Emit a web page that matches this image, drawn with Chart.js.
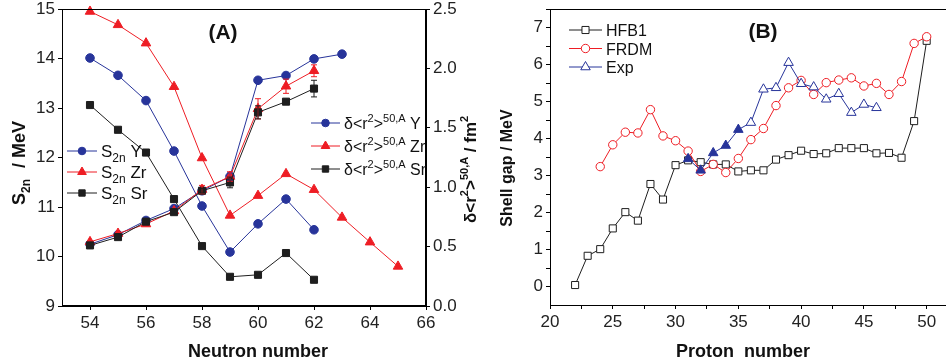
<!DOCTYPE html>
<html>
<head>
<meta charset="utf-8">
<script src="https://cdn.jsdelivr.net/npm/chart.js@4.4.1/dist/chart.umd.min.js"></script>
<style>
  body { margin: 0; background: #fff; overflow: hidden; }
  canvas { position: absolute; top: 0; }
  #chartA { left: 0; }
  #chartB { left: 500px; }
</style>
</head>
<body>
<canvas id="chartA" width="500" height="362"></canvas>
<canvas id="chartB" width="446" height="362"></canvas>
<script>
// Painel A: S2n (eixo esquerdo) e raio delta<r2> (eixo direito)
const nY = [54, 55, 56, 57, 58, 59, 60, 61, 62];
const s2nY = [14.01, 13.66, 13.15, 12.13, 11.02, 10.09, 10.66, 11.16, 10.54];
const nZr = [54, 55, 56, 57, 58, 59, 60, 61, 62, 63, 64, 65];
const s2nZr = [14.95, 14.68, 14.31, 13.43, 11.99, 10.83, 11.23, 11.67, 11.35, 10.79, 10.29, 9.80];
const nSr = [54, 55, 56, 57, 58, 59, 60, 61, 62];
const s2nSr = [13.06, 12.56, 12.10, 11.16, 10.21, 9.59, 9.63, 10.07, 9.53];

const rnY = [54, 55, 56, 57, 58, 59, 60, 61, 62, 63];
const radY = [0.52, 0.60, 0.72, 0.82, 0.97, 1.09, 1.90, 1.94, 2.08, 2.12];
const errY = [0, 0, 0, 0, 0, 0.03, 0, 0, 0, 0];
const rnZr = [54, 55, 56, 57, 58, 59, 60, 61, 62];
const radZr = [0.54, 0.61, 0.69, 0.80, 0.98, 1.09, 1.66, 1.85, 1.98];
const errZr = [0, 0, 0, 0, 0.035, 0.04, 0.085, 0.06, 0.05];
const rnSr = [54, 55, 56, 57, 58, 59, 60, 61, 62];
const radSr = [0.51, 0.58, 0.71, 0.79, 0.97, 1.04, 1.63, 1.72, 1.83];
const errSr = [0, 0, 0, 0, 0.02, 0.045, 0.055, 0, 0.07];

const ticksNeutron = [54, 56, 58, 60, 62, 64, 66];
const ticksS2n = [9, 10, 11, 12, 13, 14, 15];
const ticksRad = [0, 0.5, 1, 1.5, 2, 2.5];

// Painel B: gap de camada
const zHfb = [22, 23, 24, 25, 26, 27, 28, 29, 30, 31, 32, 33, 34, 35, 36, 37, 38, 39, 40, 41, 42, 43, 44, 45, 46, 47, 48, 49, 50];
const gapHfb = [0.04, 0.83, 1.01, 1.57, 2.01, 1.78, 2.77, 2.35, 3.28, 3.41, 3.36, 3.30, 3.30, 3.11, 3.14, 3.14, 3.43, 3.55, 3.67, 3.58, 3.60, 3.74, 3.74, 3.74, 3.60, 3.61, 3.48, 4.47, 6.64];
const zFrdm = [24, 25, 26, 27, 28, 29, 30, 31, 32, 33, 34, 35, 36, 37, 38, 39, 40, 41, 42, 43, 44, 45, 46, 47, 48, 49, 50];
const gapFrdm = [3.24, 3.83, 4.17, 4.15, 4.78, 4.07, 3.94, 3.66, 3.11, 3.30, 3.08, 3.46, 3.97, 4.27, 4.89, 5.37, 5.57, 5.19, 5.51, 5.58, 5.64, 5.42, 5.49, 5.19, 5.54, 6.57, 6.75];
const zExp = [31, 32, 33, 34, 35, 36, 37, 38, 39, 40, 41, 42, 43, 44, 45, 46];
const gapExp = [3.45, 3.14, 3.61, 3.81, 4.24, 4.43, 5.33, 5.37, 6.05, 5.48, 5.39, 5.06, 5.21, 4.70, 4.92, 4.83];
const expFilledUpTo = 35; // triangulos cheios ate Z=35

const ticksProton = [20, 25, 30, 35, 40, 45, 50];
const ticksGap = [0, 1, 2, 3, 4, 5, 6, 7];

const AZUL = '#27349a';
const VERMELHO = '#ee1d24';
const PRETO = '#1e1e1e';
const FONTE = "'Liberation Sans', Arial, sans-serif";

// desenha marcador simples
function marcador(ctx, estilo, x, y, r, cor, fundo) {
  ctx.save();
  ctx.beginPath();
  if (estilo === 'circle') {
    ctx.arc(x, y, r, 0, Math.PI * 2);
  } else if (estilo === 'triangle') {
    ctx.moveTo(x, y - r);
    ctx.lineTo(x + 0.866 * r, y + r / 2);
    ctx.lineTo(x - 0.866 * r, y + r / 2);
    ctx.closePath();
  } else {
    const s = r * Math.SQRT1_2;
    ctx.rect(x - s, y - s, 2 * s, 2 * s);
  }
  ctx.fillStyle = fundo;
  ctx.fill();
  ctx.strokeStyle = cor;
  ctx.lineWidth = 1;
  ctx.stroke();
  ctx.restore();
}

// texto com sub/sobrescritos
function textoRico(ctx, x, y, partes, angulo, alinhamento) {
  ctx.save();
  ctx.translate(x, y);
  ctx.rotate(angulo || 0);
  ctx.textAlign = 'left';
  ctx.textBaseline = 'alphabetic';
  let total = 0;
  partes.forEach(p => { ctx.font = p.f; total += p.w !== undefined ? p.w : ctx.measureText(p.t).width; });
  let cx = alinhamento === 'center' ? -total / 2 : 0;
  partes.forEach(p => {
    ctx.font = p.f;
    ctx.fillStyle = p.c || '#111';
    if (p.t) ctx.fillText(p.t, cx, p.dy || 0);
    cx += p.w !== undefined ? p.w : ctx.measureText(p.t).width;
  });
  ctx.restore();
}

function legenda(ctx, x1, x2, y, cor, estilo, r, fundo, partes) {
  ctx.save();
  ctx.strokeStyle = cor;
  ctx.lineWidth = 1;
  ctx.beginPath();
  ctx.moveTo(x1, y);
  ctx.lineTo(x2, y);
  ctx.stroke();
  ctx.restore();
  marcador(ctx, estilo, (x1 + x2) / 2, y, r, cor, fundo);
  textoRico(ctx, x2 + 4, y + 6, partes, 0, 'left');
}

function serie(label, xs, ys, cor, estilo, raio, eixo, fundo, erros, ordem) {
  return {
    label: label,
    data: xs.map((x, i) => ({ x: x, y: ys[i] })),
    borderColor: cor,
    backgroundColor: fundo || cor,
    pointBackgroundColor: fundo || cor,
    pointBorderColor: cor,
    pointStyle: estilo,
    pointRadius: raio,
    pointBorderWidth: 1,
    borderWidth: 1,
    yAxisID: eixo,
    erros: erros,
    order: ordem || 0,
    clip: false
  };
}

function eixo(extra) {
  return Object.assign({
    type: 'linear',
    grid: { display: true, drawOnChartArea: false, drawTicks: true, tickLength: 4, color: '#000' },
    border: { display: true, color: '#000', width: 1 },
    ticks: { autoSkip: false, maxRotation: 0, padding: 3, color: '#222', font: { family: FONTE, size: 17 } }
  }, extra);
}

function fixaY(largura) {
  return s => { s.width = largura; s.paddingTop = 0; s.paddingBottom = 0; };
}
function fixaX(altura) {
  return s => { s.height = altura; s.paddingLeft = 0; s.paddingRight = 0; };
}

const pluginA = {
  id: 'decorA',
  afterDatasetsDraw(chart) {
    const ctx = chart.ctx;
    chart.data.datasets.forEach(ds => {
      if (!ds.erros) return;
      const sx = chart.scales.x, sy = chart.scales[ds.yAxisID];
      ctx.save();
      ctx.strokeStyle = ds.borderColor;
      ctx.lineWidth = 1;
      ds.data.forEach((p, i) => {
        const e = ds.erros[i];
        if (!e) return;
        const px = sx.getPixelForValue(p.x);
        const y1 = sy.getPixelForValue(p.y - e), y2 = sy.getPixelForValue(p.y + e);
        ctx.beginPath();
        ctx.moveTo(px, y1); ctx.lineTo(px, y2);
        ctx.moveTo(px - 3, y1); ctx.lineTo(px + 3, y1);
        ctx.moveTo(px - 3, y2); ctx.lineTo(px + 3, y2);
        ctx.stroke();
      });
      ctx.restore();
    });
  },
  afterDraw(chart) {
    const ctx = chart.ctx, a = chart.chartArea;
    ctx.save();
    ctx.strokeStyle = '#000';
    ctx.lineWidth = 1;
    ctx.strokeRect(Math.round(a.left) + 0.5, Math.round(a.top) + 0.5, Math.round(a.right - a.left) - 1, Math.round(a.bottom - a.top) - 1);
    ctx.restore();

    const b = 'bold ';
    textoRico(ctx, 223, 39, [{ t: '(A)', f: b + '21px ' + FONTE }], 0, 'center');
    textoRico(ctx, 258, 357, [{ t: 'Neutron number', f: b + '18px ' + FONTE }], 0, 'center');
    textoRico(ctx, 25, 205, [
      { t: 'S', f: b + '18px ' + FONTE },
      { t: '2n', f: b + '12px ' + FONTE, dy: 5 },
      { t: '', f: b + '18px ' + FONTE, w: 11 },
      { t: '/ MeV', f: b + '18px ' + FONTE }
    ], -Math.PI / 2, 'left');
    textoRico(ctx, 476, 223, [
      { t: 'δ<r', f: b + '17px ' + FONTE },
      { t: '2', f: b + '11px ' + FONTE, dy: -8 },
      { t: '>', f: b + '17px ' + FONTE },
      { t: '50,A', f: b + '11px ' + FONTE, dy: -8 },
      { t: ' / fm', f: b + '17px ' + FONTE },
      { t: '2', f: b + '11px ' + FONTE, dy: -8 }
    ], -Math.PI / 2, 'left');

    const f = '17px ' + FONTE, fs = '12px ' + FONTE;
    const ds = chart.data.datasets;
    const rotS = ['Y', 'Zr', 'Sr'];
    [0, 1, 2].forEach((k, i) => {
      legenda(ctx, 67, 97, 151 + i * 21, ds[k].borderColor, ds[k].pointStyle, ds[k].pointRadius - 0.5, ds[k].borderColor, [
        { t: 'S', f: f }, { t: '2n', f: fs, dy: 5 }, { t: ' ' + rotS[i], f: f }
      ]);
    });
    const f2 = '16px ' + FONTE, fs2 = '11px ' + FONTE;
    [3, 4, 5].forEach((k, i) => {
      legenda(ctx, 311, 340, 123 + i * 23, ds[k].borderColor, ds[k].pointStyle, ds[k].pointRadius - 0.5, ds[k].borderColor, [
        { t: 'δ<r', f: f2 }, { t: '2', f: fs2, dy: -7 }, { t: '>', f: f2 }, { t: '50,A', f: fs2, dy: -7 }, { t: ' ' + rotS[i], f: f2 }
      ]);
    });
  }
};

new Chart(document.getElementById('chartA').getContext('2d'), {
  type: 'line',
  data: {
    datasets: [
      serie('S2n Y', nY, s2nY, AZUL, 'circle', 4.3, 'y', null, null, 5),
      serie('S2n Zr', nZr, s2nZr, VERMELHO, 'triangle', 5.5, 'y', null, null, 4),
      serie('S2n Sr', nSr, s2nSr, PRETO, 'rect', 5, 'y', null, null, 3),
      serie('r Y', rnY, radY, AZUL, 'circle', 4.3, 'y2', null, errY, 2),
      serie('r Zr', rnZr, radZr, VERMELHO, 'triangle', 5.5, 'y2', null, errZr, 1),
      serie('r Sr', rnSr, radSr, PRETO, 'rect', 5, 'y2', null, errSr, 0)
    ]
  },
  options: {
    responsive: false,
    animation: false,
    devicePixelRatio: 1,
    layout: { autoPadding: false, padding: { top: 9, right: 0, bottom: 0, left: 0 } },
    plugins: { legend: { display: false }, tooltip: { enabled: false } },
    scales: {
      x: eixo({
        position: 'bottom', min: 53, max: 66,
        afterBuildTicks: s => { s.ticks = ticksNeutron.map(v => ({ value: v })); },
        afterFit: fixaX(56)
      }),
      y: eixo({
        position: 'left', min: 9, max: 15,
        afterBuildTicks: s => { s.ticks = ticksS2n.map(v => ({ value: v })); },
        afterFit: fixaY(62)
      }),
      y2: eixo({
        position: 'right', min: 0, max: 2.5,
        afterBuildTicks: s => { s.ticks = ticksRad.map(v => ({ value: v })); },
        ticks: { autoSkip: false, maxRotation: 0, padding: 3, color: '#222', font: { family: FONTE, size: 17 },
          callback: v => v.toFixed(1) },
        afterFit: fixaY(74)
      })
    }
  },
  plugins: [pluginA]
});

// ---- Painel B ----
function comMenores(maiores, meio, max) {
  const out = [];
  maiores.forEach(v => { out.push(v); if (v + meio <= max) out.push(v + meio); });
  return out.map(v => ({ value: v }));
}

const pluginB = {
  id: 'decorB',
  afterDraw(chart) {
    const ctx = chart.ctx, a = chart.chartArea;
    ctx.save();
    ctx.strokeStyle = '#000';
    ctx.lineWidth = 1;
    ctx.beginPath();
    ctx.moveTo(Math.round(a.left), Math.round(a.top) + 0.5);
    ctx.lineTo(chart.width, Math.round(a.top) + 0.5);
    ctx.stroke();
    ctx.restore();

    const b = 'bold ';
    textoRico(ctx, 263, 38, [{ t: '(B)', f: b + '21px ' + FONTE }], 0, 'center');
    textoRico(ctx, 243, 357, [{ t: 'Proton  number', f: b + '18px ' + FONTE }], 0, 'center');
    textoRico(ctx, 12, 168, [{ t: 'Shell gap / MeV', f: b + '16px ' + FONTE }], -Math.PI / 2, 'center');

    const f = '16px ' + FONTE;
    const ds = chart.data.datasets;
    ds.forEach((d, i) => {
      legenda(ctx, 69, 102, 30 + i * 18.5, d.borderColor, d.pointStyle, d.pointRadius, '#fff', [{ t: d.label, f: f }]);
    });
  }
};

const expFundo = zExp.map(z => z <= expFilledUpTo ? AZUL : '#fff');

const dsExp = serie('Exp', zExp, gapExp, AZUL, 'triangle', 5.5, 'y', '#fff', null, 0);
dsExp.pointBackgroundColor = expFundo;

new Chart(document.getElementById('chartB').getContext('2d'), {
  type: 'line',
  data: {
    datasets: [
      serie('HFB1', zHfb, gapHfb, PRETO, 'rect', 5, 'y', '#fff', null, 2),
      serie('FRDM', zFrdm, gapFrdm, VERMELHO, 'circle', 4.2, 'y', '#fff', null, 1),
      dsExp
    ]
  },
  options: {
    responsive: false,
    animation: false,
    devicePixelRatio: 1,
    layout: { autoPadding: false, padding: { top: 9, right: 0, bottom: 1, left: 0 } },
    plugins: { legend: { display: false }, tooltip: { enabled: false } },
    scales: {
      x: eixo({
        position: 'bottom', min: 20, max: 51.54,
        afterBuildTicks: s => { s.ticks = comMenores(ticksProton, 2.5, 51.54); },
        ticks: { autoSkip: false, maxRotation: 0, padding: 3, color: '#222', font: { family: FONTE, size: 17 },
          callback: v => ticksProton.includes(v) ? String(v) : '' },
        afterFit: fixaX(56)
      }),
      y: eixo({
        position: 'left', min: -0.5, max: 7.5,
        afterBuildTicks: s => { s.ticks = comMenores(ticksGap, 0.5, 7.5); },
        ticks: { autoSkip: false, maxRotation: 0, padding: 3, color: '#222', font: { family: FONTE, size: 17 },
          callback: v => ticksGap.includes(v) ? String(v) : '' },
        afterFit: fixaY(50)
      })
    }
  },
  plugins: [pluginB]
});
</script>
</body>
</html>
